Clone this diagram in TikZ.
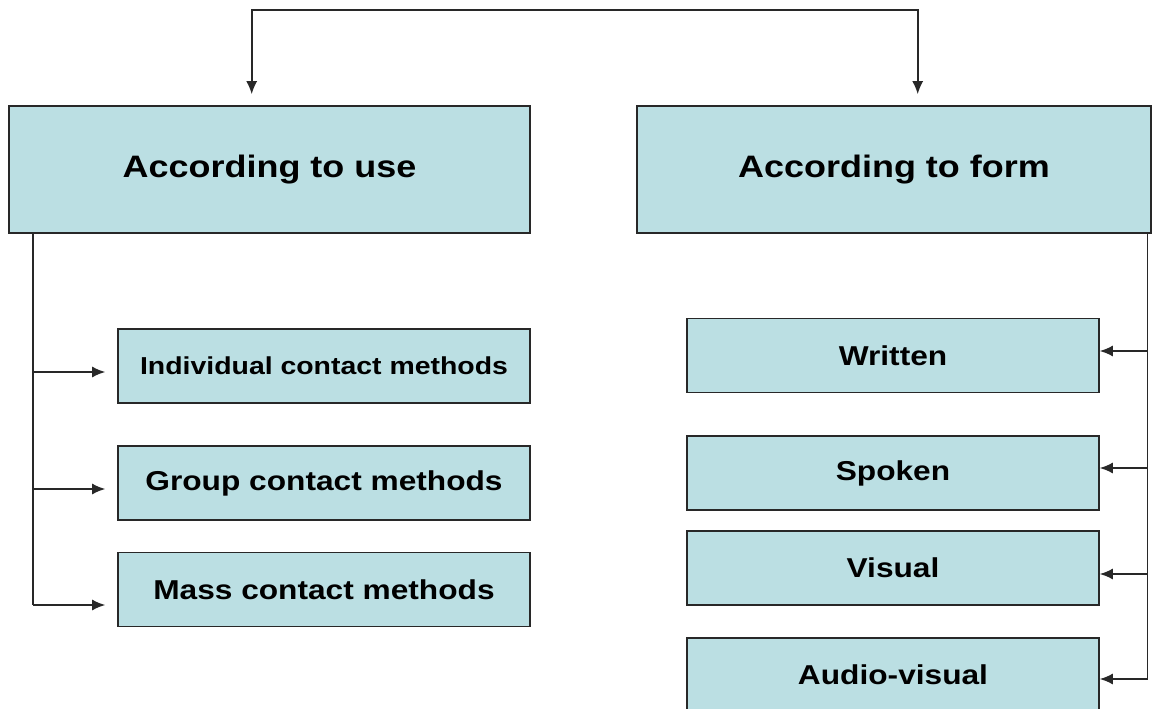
\documentclass[tikz,border=0pt]{standalone}
\usepackage{fontspec}
\setmainfont{Liberation Sans}[FakeStretch=1.16]
\usetikzlibrary{arrows.meta}
\definecolor{mcyan}{RGB}{187,223,227}
\definecolor{mgrey}{RGB}{40,40,40}

\begin{document}
\begin{tikzpicture}[x=1pt, y=-1pt, >={Latex[length=13pt,width=11pt]},
    headbox/.style={draw=mgrey, line width=1.6pt, fill=mcyan, inner sep=0pt,
      minimum width=521pt, minimum height=127pt, font=\bfseries\fontsize{31}{36}\selectfont},
    itembox/.style={draw=mgrey, line width=1.6pt, fill=mcyan, inner sep=0pt,
      minimum width=412pt, minimum height=74pt, font=\bfseries\fontsize{27.3}{32}\selectfont},
    link/.style={line width=1.6pt, mgrey}]
  \useasboundingbox (0,0) rectangle (1152,709);
  % the two headings
  \node [headbox] (use) at (269.5,169.5) {According to use};
  \node [headbox, minimum width=514pt] (form) at (894,169.5) {According to form};
  % according to use
  \node [itembox, font=\bfseries\fontsize{24.5}{30}\selectfont] (indiv) at (324,366) {Individual contact methods};
  \node [itembox] (group) at (324,483) {Group contact methods};
  \node [itembox] (mass) at (324,589.5) {Mass contact methods};
  % according to form
  \node [itembox] (written) at (893,355.5) {Written};
  \node [itembox] (spoken) at (893,473) {Spoken};
  \node [itembox] (visual) at (893,568) {Visual};
  \node [itembox] (audio) at (893,675) {Audio-visual};

  \coordinate (topL) at (251.7,10);
  \coordinate (topR) at (917.7,10);
  \draw [link, <->, shorten <=11pt, shorten >=11pt]
    (topL |- use.north) -- (topL) -- (topR) -- (topR |- form.north);

  \coordinate (l1) at (33,372);
  \coordinate (l2) at (33,489);
  \coordinate (l3) at (33,605);
  \draw [link] (use.south -| l1) -- (l3);
  \foreach \c/\b in {l1/indiv, l2/group, l3/mass}
    \draw [link, ->, shorten >=12pt] (\c) -- (\c -| \b.west);

  \coordinate (r1) at (1147.5,351);
  \coordinate (r2) at (1147.5,468);
  \coordinate (r3) at (1147.5,574);
  \coordinate (r4) at (1147.5,679);
  \draw [link] (form.south -| r1) -- (r4);
  \foreach \c/\b in {r1/written, r2/spoken, r3/visual, r4/audio}
    \draw [link, ->] (\c) -- (\c -| \b.east);
\end{tikzpicture}
\end{document}
